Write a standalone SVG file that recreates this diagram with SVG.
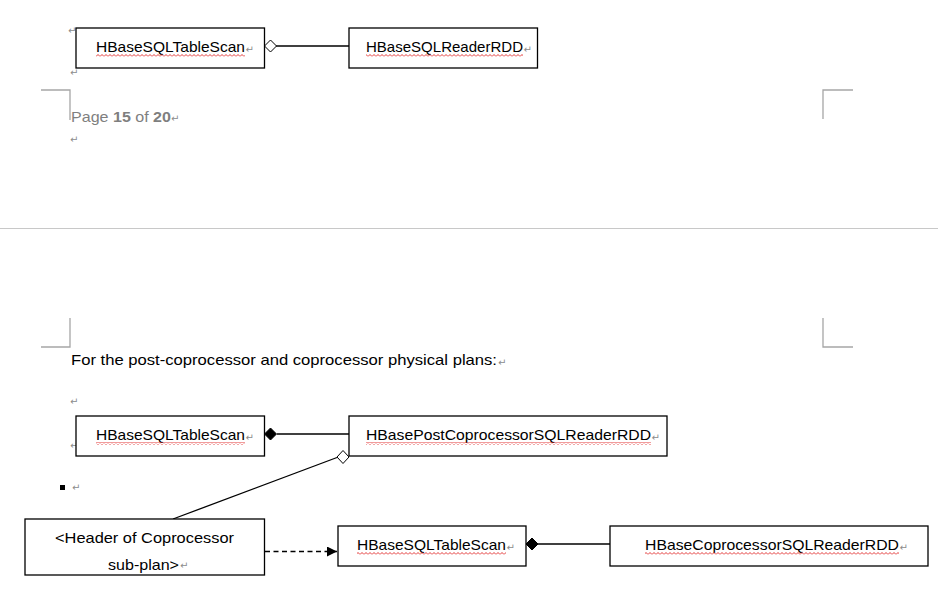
<svg xmlns="http://www.w3.org/2000/svg" width="938" height="603" viewBox="0 0 938 603">
<defs>
<style>
.box{fill:#fff;stroke:#000;stroke-width:1.3}
.t{font-family:"Liberation Sans",Arial,sans-serif;font-size:15px;fill:#000}
.pg{font-family:"Liberation Sans",Arial,sans-serif;font-size:15px;fill:#7f7f7f}
.rm{font-family:"DejaVu Sans",sans-serif;font-size:10px;fill:#8c8c8c}
.crn{fill:none;stroke:#a6a6a6;stroke-width:1.3}
.ln{fill:none;stroke:#000;stroke-width:1.3}
.sq{fill:url(#squig)}
</style>
<pattern id="squig" patternUnits="userSpaceOnUse" width="4" height="3">
<path d="M0 2.5 L2 0.5 L4 2.5" fill="none" stroke="#e02020" stroke-width="0.9"/>
</pattern>
<marker id="arr" viewBox="0 0 10 10" refX="10" refY="5" markerWidth="10" markerHeight="10" markerUnits="userSpaceOnUse" orient="auto">
<path d="M0 0 L10 5 L0 10 Z" fill="#000"/>
</marker>
</defs>
<rect width="938" height="603" fill="#fff"/>

<!-- page chrome -->
<path class="crn" d="M41 90 H70 V120"/>
<path class="crn" d="M853 90 H823 V119"/>
<line x1="0" y1="228.5" x2="938" y2="228.5" stroke="#c8c8c8" stroke-width="1"/>
<path class="crn" d="M70 318 V347 H41"/>
<path class="crn" d="M823 318 V347 H853"/>

<text class="pg" x="71" y="122" textLength="100" lengthAdjust="spacingAndGlyphs">Page <tspan font-weight="bold">15</tspan> of <tspan font-weight="bold">20</tspan></text>
<text class="t" x="71" y="365" textLength="426" lengthAdjust="spacingAndGlyphs">For the post-coprocessor and coprocessor physical plans:</text>

<!-- paragraph marks -->
<g class="rm">
<text x="68" y="34">↵</text>
<text x="70" y="76">↵</text>
<text x="171" y="122">↵</text>
<text x="70" y="143">↵</text>
<text x="498" y="366">↵</text>
<text x="70" y="405">↵</text>
<text x="70" y="449">↵</text>
<text x="72" y="491">↵</text>
</g>
<rect x="60" y="485" width="5" height="5" fill="#000"/>

<!-- connectors -->
<g id="connectors">
<line class="ln" x1="276" y1="46" x2="349" y2="46"/>
<path d="M264.5 46 L270.5 40 L276.5 46 L270.5 52 Z" fill="#fff" stroke="#000" stroke-width="1"/>
<line class="ln" x1="277" y1="434" x2="349" y2="434"/>
<path d="M264.5 434 L270.5 428 L276.5 434 L270.5 440 Z" fill="#000" stroke="#000" stroke-width="1"/>
<line class="ln" x1="173" y1="519" x2="337" y2="457.5"/>
<path d="M337 457 L343 450.5 L349 457 L343 463.5 Z" fill="#fff" stroke="#000" stroke-width="1"/>
<line x1="265" y1="551.5" x2="337" y2="551.5" stroke="#000" stroke-width="1.3" stroke-dasharray="5,3.5" marker-end="url(#arr)"/>
<line class="ln" x1="538" y1="544" x2="610" y2="544"/>
<path d="M526 544 L532 538 L538 544 L532 550 Z" fill="#000" stroke="#000" stroke-width="1"/>
</g>

<g id="n1">
<rect class="box" x="76" y="28" width="188.5" height="40"/>
<text class="t" x="96" y="52" textLength="149" lengthAdjust="spacingAndGlyphs">HBaseSQLTableScan</text>
<rect class="sq" x="96" y="54" width="149" height="3"/>
<text class="rm" x="245.5" y="53">↵</text>
</g>
<g id="n2">
<rect class="box" x="349" y="28" width="188.5" height="40"/>
<text class="t" x="366" y="52" textLength="157" lengthAdjust="spacingAndGlyphs">HBaseSQLReaderRDD</text>
<rect class="sq" x="366" y="54" width="157" height="3"/>
<text class="rm" x="523.5" y="53">↵</text>
</g>
<g id="n3">
<rect class="box" x="76" y="416" width="188.5" height="40"/>
<text class="t" x="96" y="440" textLength="149" lengthAdjust="spacingAndGlyphs">HBaseSQLTableScan</text>
<rect class="sq" x="96" y="442" width="149" height="3"/>
<text class="rm" x="245.5" y="441">↵</text>
</g>
<g id="n4">
<rect class="box" x="349" y="416" width="318" height="40"/>
<text class="t" x="366" y="440" textLength="285" lengthAdjust="spacingAndGlyphs">HBasePostCoprocessorSQLReaderRDD</text>
<rect class="sq" x="366" y="442" width="285" height="3"/>
<text class="rm" x="651.5" y="441">↵</text>
</g>
<g id="n5">
<rect class="box" x="25" y="519" width="239.5" height="56"/>
<text class="t" x="55" y="543" textLength="179" lengthAdjust="spacingAndGlyphs">&lt;Header of Coprocessor</text>
<svg x="25" y="519" width="239.5" height="55.5" overflow="hidden">
<text class="t" x="83" y="51" textLength="71" lengthAdjust="spacingAndGlyphs">sub-plan&gt;</text>
</svg>
<text class="rm" x="180" y="569">↵</text>
</g>
<g id="n6">
<rect class="box" x="338" y="526" width="188" height="40"/>
<text class="t" x="357" y="550" textLength="149" lengthAdjust="spacingAndGlyphs">HBaseSQLTableScan</text>
<rect class="sq" x="357" y="552" width="149" height="3"/>
<text class="rm" x="506.5" y="551">↵</text>
</g>
<g id="n7">
<rect class="box" x="610" y="526" width="318" height="40"/>
<text class="t" x="645" y="550" textLength="254" lengthAdjust="spacingAndGlyphs">HBaseCoprocessorSQLReaderRDD</text>
<rect class="sq" x="645" y="552" width="254" height="3"/>
<text class="rm" x="899.5" y="551">↵</text>
</g>
</svg>
